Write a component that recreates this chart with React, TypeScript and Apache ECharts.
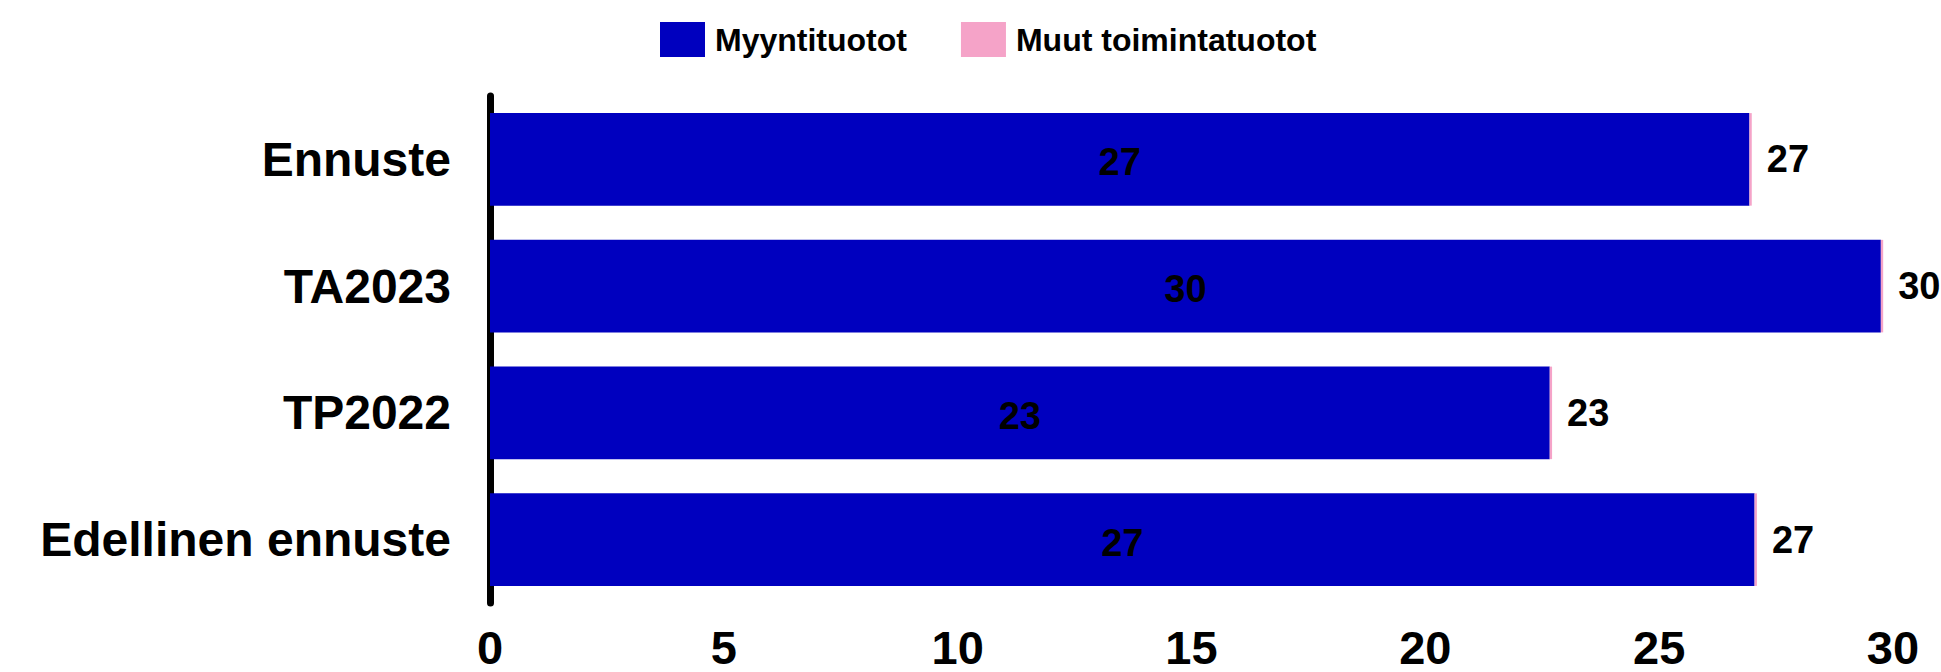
import React, { useEffect, useRef } from "react";
import * as echarts from "echarts";

const categories = ["Ennuste", "TA2023", "TP2022", "Edellinen ennuste"];
const seriesNames = ["Myyntituotot", "Muut toimintatuotot"];
const myyntituotot = [26.93, 29.74, 22.66, 27.04];
const muutTuotot = [0.05, 0.05, 0.05, 0.05];
const xTicks = { min: 0, max: 30, interval: 5 };

const BLUE = "#0000BF";
const PINK = "#F5A3C8";
const FONT = "'Liberation Sans', Arial, sans-serif";

export default function App() {
  const ref = useRef<HTMLDivElement>(null);
  useEffect(() => {
    if (!ref.current) return;
    const chart = echarts.init(ref.current, null, { renderer: "svg" });
    const totals = myyntituotot.map((v, i) => v + muutTuotot[i]);
    chart.setOption({
      animation: false,
      legend: {
        top: 17,
        left: 655,
        icon: "rect",
        itemWidth: 45,
        itemHeight: 35,
        itemGap: 54,
        data: seriesNames,
        textStyle: {
          fontFamily: FONT,
          fontWeight: "bold",
          fontSize: 32,
          color: "#000",
          padding: [0, 0, 0, 5],
        },
      },
      grid: { left: 490, right: 48, top: 96, bottom: 69 },
      xAxis: {
        type: "value",
        min: xTicks.min,
        max: xTicks.max,
        interval: xTicks.interval,
        axisLine: { show: false },
        axisTick: { show: false },
        splitLine: { show: false },
        axisLabel: {
          margin: 21,
          fontFamily: FONT,
          fontWeight: "bold",
          fontSize: 47,
          color: "#000",
        },
      },
      yAxis: {
        type: "category",
        data: categories,
        inverse: true,
        axisLine: { show: true, lineStyle: { color: "#000", width: 7 } },
        axisTick: { show: false },
        axisLabel: {
          margin: 39,
          fontFamily: FONT,
          fontWeight: "bold",
          fontSize: 48,
          color: "#000",
        },
      },
      series: [
        {
          name: seriesNames[0],
          type: "bar",
          stack: "total",
          barWidth: "73%",
          itemStyle: { color: BLUE },
          label: {
            show: true,
            position: "inside",
            offset: [0, 3],
            fontFamily: FONT,
            fontWeight: "bold",
            fontSize: 38,
            color: "#000",
            formatter: (p: any) => String(Math.round(p.value)),
          },
          data: myyntituotot,
        },
        {
          name: seriesNames[1],
          type: "bar",
          stack: "total",
          itemStyle: { color: PINK },
          label: {
            show: true,
            position: "right",
            distance: 15,
            fontFamily: FONT,
            fontWeight: "bold",
            fontSize: 38,
            color: "#000",
            formatter: (p: any) => String(Math.round(totals[p.dataIndex])),
          },
          data: muutTuotot,
        },
      ],
    });
    return () => chart.dispose();
  }, []);
  return (
    <div
      ref={ref}
      style={{ position: "fixed", left: 0, top: 0, width: 1941, height: 672, background: "#fff" }}
    />
  );
}
